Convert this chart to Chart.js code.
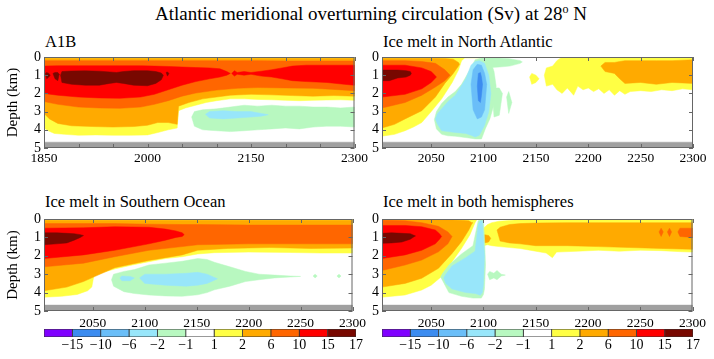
<!DOCTYPE html>
<html>
<head>
<meta charset="utf-8">
<script src="https://cdn.jsdelivr.net/npm/chart.js@4.4.1/dist/chart.umd.min.js"></script>
<style>
  body { margin: 0; background: #fff; }
  #fig { position: relative; width: 714px; height: 359px; font-family: 'Liberation Serif', 'Times New Roman', serif; color: #000; }
  #fig canvas { position: absolute; }
  .ttl { position: absolute; white-space: nowrap; }
  #main { left: 0; width: 742px; top: 2px; text-align: center; font-size: 19px; line-height: 24px; }
  #main span { font-size: 12px; position: relative; top: -7px; }
  .sub { font-size: 16.5px; line-height: 20px; }
</style>
</head>
<body>
<div id="fig">
  <div id="main" class="ttl">Atlantic meridional overturning circulation (Sv) at 28<span>o</span> N</div>
  <div class="ttl sub" style="left:45px;top:32px">A1B</div>
  <div class="ttl sub" style="left:383px;top:32px">Ice melt in North Atlantic</div>
  <div class="ttl sub" style="left:45px;top:192px">Ice melt in Southern Ocean</div>
  <div class="ttl sub" style="left:383px;top:192px">Ice melt in both hemispheres</div>
  <canvas id="a1b" width="370" height="140" style="left:0;top:30px"></canvas>
  <canvas id="na" width="370" height="140" style="left:340px;top:30px"></canvas>
  <canvas id="so" width="370" height="140" style="left:0;top:192px"></canvas>
  <canvas id="bh" width="370" height="140" style="left:340px;top:192px"></canvas>
  <canvas id="cb1" width="340" height="37" style="left:30px;top:322px"></canvas>
  <canvas id="cb2" width="340" height="37" style="left:368px;top:322px"></canvas>
</div>
<script>
const FONT = 'Liberation Serif';

// contour levels (Sv) and their colours, as on the colour bars
const levelValues = [-15, -10, -6, -2, -1, 1, 2, 6, 10, 15, 17];
const levelColors = ['#8000FF', '#3C8CF0', '#6ABEF8', '#98E6FA', '#B8F8C0', '#FFFFFF',
                     '#FFFF44', '#FFAA00', '#FF6600', '#FF0000', '#780800'];
const colorbarBins = [1, 1, 1, 1, 1, 1, 1, 1, 1, 1, 1];
const levelIndex = { le10: 1, le6: 2, le2: 3, le1: 4, ge1: 6, ge2: 7, ge6: 8, ge10: 9, ge15: 10 };
const floorDepth = [4.68, 5];

// each region: [year, top depth (km), bottom depth (km)]
// --- A1B ---
const a1bGe1 = [[1850,0,3.9],[1856,0,4.05],[1865,0,4.2],[1880,0,4.25],[1900,0,4.3],[1925,0,4.28],[1950,0,4.3],[1975,0,4.3],[2000,0,4.28],[2015,0,4.15],[2030,0,4.0],[2043,0,3.9],[2045,0,2.95],[2055,0,2.8],[2070,0,2.65],[2085,0,2.5],[2100,0,2.4],[2120,0,2.3],[2140,0,2.3],[2160,0,2.33],[2180,0,2.35],[2200,0,2.38],[2220,0,2.4],[2240,0,2.38],[2260,0,2.36],[2280,0,2.35],[2300,0,2.38]];
const a1bGe2 = [[1850,0.07,3.1],[1858,0.07,3.4],[1870,0.07,3.65],[1890,0.07,3.78],[1920,0.07,3.82],[1950,0.07,3.85],[1980,0.07,3.82],[2000,0.07,3.75],[2015,0.07,3.6],[2030,0.07,3.6],[2043,0.07,3.7],[2045,0.07,2.7],[2060,0.07,2.5],[2080,0.07,2.3],[2100,0.07,2.2],[2120,0.07,2.1],[2150,0.07,2.05],[2180,0.07,2.08],[2210,0.07,2.12],[2240,0.07,2.15],[2270,0.07,2.12],[2300,0.07,2.15]];
const a1bGe6 = [[1850,0.2,2.45],[1870,0.2,2.6],[1900,0.2,2.75],[1930,0.2,2.8],[1960,0.2,2.82],[1990,0.2,2.75],[2010,0.2,2.6],[2030,0.2,2.4],[2050,0.2,2.15],[2070,0.2,1.98],[2100,0.2,1.82],[2130,0.2,1.72],[2160,0.2,1.68],[2200,0.22,1.7],[2240,0.22,1.72],[2270,0.22,1.78],[2300,0.22,1.85]];
const a1bGe10 = [[1850,0.5,2.0],[1870,0.48,2.1],[1900,0.48,2.2],[1930,0.48,2.25],[1960,0.48,2.27],[1990,0.48,2.2],[2010,0.5,2.05],[2030,0.52,1.8],[2050,0.55,1.55],[2070,0.58,1.35],[2090,0.6,1.2],[2105,0.65,1.1],[2115,0.8,1.0],[2120,0.9,0.9]];
const a1bGe10b = [[2122,0.9,0.9],[2126,0.75,1.05],[2130,0.85,0.95],[2140,0.8,1.0],[2150,0.85,0.95],[2165,0.78,1.05],[2180,0.7,1.1],[2195,0.6,1.2],[2210,0.5,1.3],[2230,0.45,1.35],[2260,0.45,1.4],[2285,0.45,1.5],[2300,0.45,1.55]];
const a1bGe15 = [[1874,1.0,1.0],[1876,0.8,1.4],[1890,0.77,1.5],[1910,0.76,1.55],[1930,0.78,1.55],[1945,0.82,1.45],[1955,0.85,1.4],[1965,0.8,1.45],[1980,0.75,1.55],[2000,0.75,1.58],[2012,0.8,1.45],[2020,0.88,1.25],[2023,1.0,1.0]];
const a1bGe15s1 = [[1852,0.9,0.9],[1854,0.85,1.2],[1857,0.9,1.1],[1859,1.0,1.0]];
const a1bGe15s2 = [[1863,0.9,0.9],[1866,0.85,1.2],[1870,0.85,1.3],[1872,0.95,0.95]];
const a1bGe15s3 = [[2027,0.85,0.85],[2029,0.82,1.05],[2031,0.9,0.9]];
const a1bLe1 = [[2064,3.3,3.3],[2068,3.0,3.8],[2080,2.9,4.0],[2100,2.85,4.05],[2120,2.75,4.1],[2140,2.65,4.05],[2160,2.7,4.0],[2180,2.65,3.95],[2200,2.7,3.9],[2220,2.7,3.95],[2240,2.75,3.85],[2260,2.75,3.8],[2280,2.8,3.8],[2300,2.75,3.85]];
const a1bLe2 = [[2084,3.15,3.15],[2090,3.0,3.35],[2110,2.95,3.4],[2130,3.0,3.35],[2150,3.0,3.3],[2165,3.1,3.25],[2175,3.17,3.17]];

// --- Ice melt in North Atlantic ---
const naGe1 = [[2003,0,4.35],[2015,0,4.25],[2025,0,4.05],[2033,0,3.85],[2041,0,3.6],[2050,0,3.0],[2060,0,2.3],[2070,0,1.4],[2076,0,0.72],[2079,0,0.2],[2082,0,0.05],[2098,0,0.05],[2100,0,0]];
const naGe1b = [[2144,1.1,1.1],[2146,0.9,1.5],[2150,1.0,1.4],[2153,1.2,1.2]];
const naGe1c = [[2158,1.0,1.0],[2160,0.6,1.6],[2166,0.5,1.5],[2170,0.2,1.8],[2175,0,2.0],[2180,0,1.7],[2186,0,2.1],[2190,0,1.6],[2195,0,1.8],[2200,0,1.7],[2205,0,1.9],[2210,0,1.75],[2215,0,2.0],[2220,0,1.8],[2225,0,2.1],[2230,0,1.85],[2235,0,2.05],[2240,0,1.9],[2250,0,1.85],[2260,0,1.9],[2270,0,1.8],[2280,0,1.85],[2290,0,1.75],[2300,0,1.8]];
const naGe2 = [[2003,0.07,3.9],[2015,0.07,3.7],[2025,0.07,3.4],[2041,0.07,2.95],[2054,0.07,2.2],[2063,0.08,1.45],[2071,0.12,0.9],[2076,0.3,0.5],[2077,0.4,0.4]];
const naGe2b = [[2212,0.5,0.5],[2216,0.3,0.8],[2225,0.3,0.9],[2230,0.25,1.2],[2235,0.2,1.45],[2250,0.2,1.4],[2265,0.2,1.5],[2280,0.2,1.4],[2300,0.15,1.45]];
const naGe6 = [[2003,0.2,2.8],[2025,0.2,2.5],[2041,0.25,2.1],[2054,0.35,1.65],[2063,0.7,1.3],[2068,1.0,1.0]];
const naGe10 = [[2003,0.45,2.2],[2025,0.45,2.05],[2041,0.6,1.75],[2050,0.8,1.4],[2055,1.1,1.1]];
const naGe15 = [[2003,0.72,1.3],[2010,0.72,1.3],[2018,0.72,1.15],[2026,0.75,1.1],[2030,0.8,1.0],[2031,0.9,0.9]];
const naLe1 = [[2053,3.45,3.45],[2055,3.0,3.95],[2060,2.55,4.25],[2066,2.2,4.33],[2073,1.9,4.35],[2079,1.5,4.4],[2086,0.8,4.45],[2092,0.15,4.5],[2098,0.05,4.5],[2102,0.05,3.9],[2106,0.1,3.4],[2110,0.8,2.6],[2112,1.6,1.6]];
const naLe1b = [[2100,0.05,0.6],[2115,0.05,0.55],[2125,0.1,0.5],[2135,0.2,0.35],[2137,0.27,0.27]];
const naLe1c = [[2108,1.8,1.8],[2110,1.7,3.3],[2115,1.7,3.2],[2118,2.0,2.0]];
const naLe1d = [[2122,2.2,2.2],[2124,1.9,3.1],[2127,2.5,2.5]];
const naLe2 = [[2054,3.4,3.4],[2056,3.1,3.7],[2060,2.85,4.05],[2066,2.45,4.1],[2073,2.1,4.15],[2083,1.2,4.2],[2088,0.45,4.3],[2092,0.25,4.4],[2096,0.2,4.3],[2101,0.35,3.75],[2105,1.0,3.0],[2107,2.0,2.0]];
const naLe6 = [[2088,1.5,1.5],[2090,0.7,2.9],[2094,0.4,3.4],[2098,0.45,3.3],[2101,0.9,2.9],[2103,1.5,1.5]];
const naLe10 = [[2094,1.6,1.6],[2095,0.9,2.4],[2097,0.85,2.5],[2098,1.1,2.1],[2099,1.5,1.5]];

// --- Ice melt in Southern Ocean ---
const soGe1 = [[2003,0,4.25],[2020,0,4.2],[2035,0,4.1],[2045,0,3.9],[2049,0,3.7],[2051,0,3.1],[2060,0,2.9],[2072,0,2.7],[2088,0,2.5],[2104,0,2.32],[2120,0,2.15],[2136,0,2.05],[2151,0,1.9],[2167,0,1.83],[2200,0,1.8],[2240,0,1.82],[2270,0,1.85],[2300,0,1.85]];
const soGe2 = [[2003,0.07,3.9],[2025,0.07,3.7],[2041,0.07,3.4],[2055,0.07,3.05],[2071,0.07,2.65],[2104,0.07,2.25],[2136,0.07,1.95],[2151,0.07,1.7],[2180,0.07,1.6],[2220,0.07,1.55],[2260,0.07,1.6],[2300,0.07,1.58]];
const soGe6 = [[2003,0.25,2.6],[2041,0.25,2.4],[2071,0.25,2.05],[2104,0.28,1.7],[2136,0.3,1.5],[2151,0.3,1.4],[2200,0.33,1.35],[2250,0.33,1.35],[2300,0.33,1.35]];
const soGe10 = [[2003,0.5,2.15],[2041,0.48,1.95],[2071,0.42,1.7],[2104,0.45,1.35],[2120,0.55,1.15],[2130,0.65,1.0],[2136,0.75,0.95],[2138,0.85,0.85]];
const soGe15 = [[2003,0.75,1.4],[2015,0.75,1.35],[2025,0.78,1.3],[2032,0.8,1.15],[2038,0.85,1.0],[2041,0.9,0.9]];
const soLe1 = [[2068,3.3,3.3],[2070,3.0,3.65],[2080,2.85,3.95],[2090,2.75,4.05],[2104,2.5,4.13],[2120,2.4,4.18],[2136,2.3,4.2],[2151,2.15,4.12],[2160,2.2,4.0],[2167,2.35,3.85],[2182,2.6,3.65],[2197,2.85,3.4],[2210,3.0,3.3],[2225,3.05,3.2],[2240,3.1,3.15],[2250,3.12,3.12]];
const soLe1b = [[2262,3.1,3.1],[2264,3.0,3.2],[2266,3.1,3.1]];
const soLe1c = [[2285,3.1,3.1],[2287,3.0,3.2],[2289,3.1,3.1]];
const soLe2 = [[2076,3.2,3.2],[2078,3.1,3.35],[2086,3.12,3.35],[2090,3.2,3.2]];
const soLe2b = [[2095,3.2,3.2],[2100,3.0,3.5],[2120,3.0,3.6],[2140,2.95,3.65],[2151,2.9,3.6],[2160,3.0,3.5],[2166,3.15,3.35],[2170,3.25,3.25]];

// --- Ice melt in both hemispheres ---
const bhGe1 = [[2003,0,4.25],[2025,0,4.13],[2041,0,3.86],[2050,0,3.6],[2060,0,3.13],[2070,0,2.32],[2079,0,1.6],[2087,0,0.87],[2092,0,0.2],[2094,0,0]];
const bhGe1b = [[2098,0.8,0.8],[2100,0.5,1.45],[2104,0.3,1.4],[2108,0.2,1.45],[2115,0.12,1.5],[2125,0.08,1.55],[2135,0.03,1.6],[2150,0,1.75],[2160,0,1.85],[2166,0,2.1],[2170,0,1.8],[2190,0,1.75],[2210,0,1.7],[2230,0,1.75],[2250,0,1.7],[2270,0,1.72],[2290,0,1.78],[2300,0,1.8]];
const bhGe2 = [[2003,0.05,3.7],[2025,0.05,3.5],[2041,0.05,3.22],[2057,0.05,2.68],[2070,0.05,1.87],[2079,0.07,1.23],[2086,0.1,0.6],[2089,0.2,0.25],[2090,0.2,0.2]];
const bhGe2b = [[2099,1.0,1.0],[2101,0.85,1.3],[2105,0.9,1.25],[2107,1.05,1.05]];
const bhGe2c = [[2113,0.6,0.6],[2116,0.45,1.2],[2125,0.3,1.3],[2135,0.25,1.35],[2150,0.22,1.45],[2180,0.2,1.45],[2210,0.2,1.5],[2240,0.2,1.55],[2270,0.2,1.6],[2300,0.2,1.65]];
const bhGe6 = [[2003,0.07,2.8],[2025,0.1,2.5],[2041,0.2,2.23],[2057,0.4,1.78],[2066,0.7,1.35],[2070,0.95,0.95]];
const bhGe6b = [[2268,0.7,0.7],[2270,0.5,0.95],[2272,0.7,0.7]];
const bhGe6c = [[2276,0.7,0.7],[2278,0.5,0.95],[2280,0.7,0.7]];
const bhGe6d = [[2286,0.7,0.7],[2288,0.5,0.95],[2300,0.5,1.0]];
const bhGe10 = [[2003,0.35,2.15],[2025,0.35,1.95],[2041,0.42,1.7],[2054,0.6,1.35],[2058,0.8,1.1],[2060,0.95,0.95]];
const bhGe15 = [[2003,0.78,1.32],[2012,0.75,1.3],[2022,0.78,1.25],[2030,0.8,1.1],[2034,0.9,0.95],[2035,0.92,0.92]];
const bhLe1 = [[2059,3.15,3.15],[2061,2.95,3.35],[2067,2.5,4.0],[2079,1.9,4.2],[2090,1.45,4.3],[2095,0.1,4.3],[2098,0.02,4.3],[2100,0.02,4.1],[2101,1.0,3.8],[2102,2.5,2.5]];
const bhLe1b = [[2104,3.0,3.0],[2106,2.85,3.3],[2110,2.95,3.2],[2113,2.8,3.3],[2117,3.0,3.1],[2121,3.05,3.05]];
const bhLe2 = [[2062,3.2,3.2],[2064,3.0,3.5],[2070,2.55,3.8],[2083,2.1,4.0],[2092,1.75,4.05],[2095,0.3,4.1],[2097,0.1,4.15],[2099,0.1,4.0],[2100,1.0,3.6],[2101,2.0,2.0]];

// axis ticks
const a1bTickYears = [1850, 1900, 1950, 2000, 2050, 2100, 2150, 2200, 2250, 2300];
const a1bLabelYears = [1850, 2000, 2150, 2300];
const meltTickYears = [2050, 2100, 2150, 2200, 2250, 2300];
const depthTicks = [0, 1, 2, 3, 4, 5];

// frame plus inward tick marks on all four sides
const framePlugin = {
    id: 'frame',
    afterDatasetsDraw(chart) {
        const { ctx, chartArea: a, scales: { x, y } } = chart;
        ctx.save();
        ctx.strokeStyle = '#666';
        ctx.lineWidth = 1;
        ctx.beginPath();
        x.ticks.forEach(t => {
            const px = Math.round(x.getPixelForValue(t.value)) + 0.5;
            ctx.moveTo(px, a.bottom); ctx.lineTo(px, a.bottom - 4);
            ctx.moveTo(px, a.top); ctx.lineTo(px, a.top + 4);
        });
        y.ticks.forEach(t => {
            const py = Math.round(y.getPixelForValue(t.value)) + 0.5;
            ctx.moveTo(a.left, py); ctx.lineTo(a.left + 4, py);
            ctx.moveTo(a.right, py); ctx.lineTo(a.right - 4, py);
        });
        ctx.stroke();
        ctx.strokeRect(a.left + 0.5, a.top + 0.5, a.width - 1, a.height - 1);
        ctx.restore();
    }
};

function drawPanel(id, xMin, xMax, tickYears, labelYears, regions, opts) {
    const all = regions.concat([['floor', [[xMin, floorDepth[0], floorDepth[1]], [xMax, floorDepth[0], floorDepth[1]]]]]);
    const datasets = all.map(([level, rows], i) => {
        const color = level === 'floor' ? '#A0A0A0' : levelColors[levelIndex[level]];
        // outline: along the top boundary, then back along the bottom one
        const outline = rows.map(r => ({ x: r[0], y: r[1] }))
            .concat(rows.slice().reverse().map(r => ({ x: r[0], y: r[2] })));
        return {
            data: outline,
            backgroundColor: color,
            borderColor: color,
            borderWidth: 0.5,
            fill: 'shape',
            pointRadius: 0,
            order: all.length - i
        };
    });

    new Chart(document.getElementById(id), {
        type: 'line',
        data: { datasets: datasets },
        options: {
            responsive: false,
            animation: false,
            events: [],
            layout: { padding: { top: 27, right: opts.padRight, left: 0, bottom: 0 } },
            elements: { line: { tension: 0 } },
            plugins: { legend: { display: false }, tooltip: { enabled: false } },
            scales: {
                x: {
                    type: 'linear', min: xMin, max: xMax,
                    grid: { display: false, drawTicks: false },
                    border: { display: false },
                    afterBuildTicks: s => { s.ticks = tickYears.map(v => ({ value: v })); },
                    afterFit: s => { s.height = opts.xAxisHeight; },
                    ticks: {
                        autoSkip: false, maxRotation: 0, padding: opts.xPad, color: '#000',
                        font: { family: FONT, size: 13.5 },
                        callback: v => labelYears.includes(v) ? String(v) : ''
                    }
                },
                y: {
                    type: 'linear', reverse: true, min: 0, max: 5,
                    grid: { display: false, drawTicks: false },
                    border: { display: false },
                    afterBuildTicks: s => { s.ticks = depthTicks.map(v => ({ value: v })); },
                    afterFit: s => { s.width = opts.yWidth; },
                    ticks: { autoSkip: false, padding: 3, color: '#000', font: { family: FONT, size: 14 } },
                    title: {
                        display: opts.yTitle, text: 'Depth (km)', color: '#000',
                        font: { family: FONT, size: 15 }, padding: { top: 4, bottom: 0 }
                    }
                }
            }
        },
        plugins: [framePlugin]
    });
}

function drawColorbar(id, padRight) {
    new Chart(document.getElementById(id), {
        type: 'bar',
        data: {
            labels: [''],
            datasets: colorbarBins.map((w, i) => ({
                data: [w],
                backgroundColor: levelColors[i],
                borderColor: '#333',
                borderWidth: 0.8,
                borderSkipped: false,
                barPercentage: 1,
                categoryPercentage: 1
            }))
        },
        options: {
            indexAxis: 'y',
            responsive: false,
            animation: false,
            events: [],
            layout: { padding: { top: 7, left: 14, right: padRight, bottom: 0 } },
            plugins: { legend: { display: false }, tooltip: { enabled: false } },
            scales: {
                x: {
                    type: 'linear', stacked: true, min: 0, max: colorbarBins.length,
                    grid: { display: false, drawTicks: false },
                    border: { display: false },
                    afterBuildTicks: s => { s.ticks = levelValues.map((v, i) => ({ value: i + 1 })); },
                    afterFit: s => { s.height = 22; },
                    ticks: {
                        autoSkip: false, maxRotation: 0, padding: 0, color: '#000',
                        font: { family: FONT, size: 14 },
                        callback: v => {
                            const lv = levelValues[v - 1];
                            return lv < 0 ? '\u2212' + Math.abs(lv) : String(lv);
                        }
                    }
                },
                y: { stacked: true, display: false }
            }
        }
    });
}

drawPanel('a1b', 1850, 2300, a1bTickYears, a1bLabelYears, [
    ['ge1', a1bGe1], ['ge2', a1bGe2], ['ge6', a1bGe6], ['ge10', a1bGe10], ['ge10', a1bGe10b],
    ['ge15', a1bGe15], ['ge15', a1bGe15s1], ['ge15', a1bGe15s2], ['ge15', a1bGe15s3],
    ['le1', a1bLe1], ['le2', a1bLe2]
], { padRight: 14, xAxisHeight: 22, xPad: 2, yWidth: 44, yTitle: true });

drawPanel('na', 2003, 2300, meltTickYears, meltTickYears, [
    ['ge1', naGe1], ['ge1', naGe1b], ['ge1', naGe1c], ['ge2', naGe2], ['ge2', naGe2b],
    ['ge6', naGe6], ['ge10', naGe10], ['ge15', naGe15],
    ['le1', naLe1], ['le1', naLe1b], ['le1', naLe1c], ['le1', naLe1d],
    ['le2', naLe2], ['le6', naLe6], ['le10', naLe10]
], { padRight: 17, xAxisHeight: 22, xPad: 2, yWidth: 42, yTitle: false });

drawPanel('so', 2003, 2300, meltTickYears, meltTickYears, [
    ['ge1', soGe1], ['ge2', soGe2], ['ge6', soGe6], ['ge10', soGe10], ['ge15', soGe15],
    ['le1', soLe1], ['le1', soLe1b], ['le1', soLe1c], ['le2', soLe2], ['le2', soLe2b]
], { padRight: 14, xAxisHeight: 21, xPad: 4, yWidth: 44, yTitle: true });

drawPanel('bh', 2003, 2300, meltTickYears, meltTickYears, [
    ['ge1', bhGe1], ['ge1', bhGe1b], ['ge2', bhGe2], ['ge2', bhGe2b], ['ge2', bhGe2c],
    ['ge6', bhGe6], ['ge6', bhGe6b], ['ge6', bhGe6c], ['ge6', bhGe6d],
    ['ge10', bhGe10], ['ge15', bhGe15],
    ['le1', bhLe1], ['le1', bhLe1b], ['le2', bhLe2]
], { padRight: 17, xAxisHeight: 21, xPad: 4, yWidth: 42, yTitle: false });

drawColorbar('cb1', 14);
drawColorbar('cb2', 15);
</script>
</body>
</html>
